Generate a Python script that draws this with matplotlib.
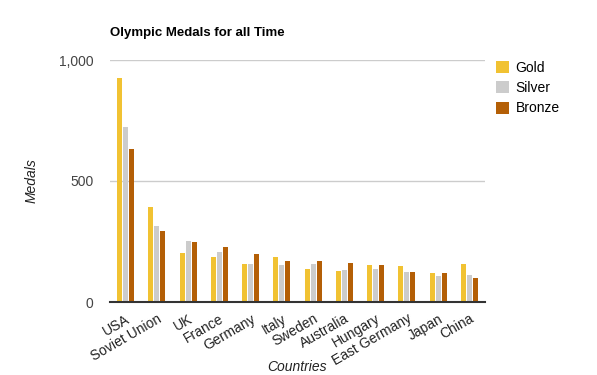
import matplotlib.pyplot as plt
import numpy as np

plt.rcParams['font.family'] = ['Liberation Sans', 'DejaVu Sans']

countries = ["USA", "Soviet Union", "UK", "France", "Germany", "Italy",
             "Sweden", "Australia", "Hungary", "East Germany", "Japan", "China"]
gold = [927, 394, 204, 187, 158, 187, 137, 129, 154, 150, 121, 158]
silver = [724, 315, 253, 208, 158, 154, 158, 133, 137, 125, 108, 112]
bronze = [634, 294, 249, 228, 199, 171, 171, 162, 154, 125, 121, 100]

series = [("Gold", gold, "#f1c232"),
          ("Silver", silver, "#cccccc"),
          ("Bronze", bronze, "#b45f06")]

fig = plt.figure(figsize=(5.97, 3.75), dpi=100)
ax = fig.add_axes([110 / 597, 1 - 302 / 375, 375 / 597, 242 / 375])

x = np.arange(len(countries))
w = 0.16
step = 0.192
for i, (name, vals, col) in enumerate(series):
    ax.bar(x + (i - 1) * step, vals, width=w, color=col, label=name, zorder=3)

ax.set_xlim(-0.5, len(countries) - 0.5)
ax.set_ylim(0, 1000)
ax.set_yticks([0, 500, 1000])
ax.set_yticklabels(["0", "500", "1,000"])
ax.yaxis.grid(True, color="#cccccc", linewidth=1, zorder=0)
for s in ["top", "right", "left"]:
    ax.spines[s].set_visible(False)
ax.spines["bottom"].set_color("#333333")
ax.spines["bottom"].set_linewidth(1.5)
ax.spines["bottom"].set_zorder(4)
ax.tick_params(axis="both", length=0, labelsize=10, colors="#222222")
ax.tick_params(axis="y", pad=12, labelcolor="#444444")
ax.set_xticks(x)
ax.set_xticklabels(countries, rotation=30, ha="right", rotation_mode="anchor")
ax.tick_params(axis="x", pad=7)

# axis titles placed in figure pixels
fig.text(32 / 597, 1 - 181 / 375, "Medals", fontstyle="italic", fontsize=10,
         rotation=90, ha="center", va="center", color="#222222")
fig.text(297 / 597, 1 - 367 / 375, "Countries", fontstyle="italic", fontsize=10,
         ha="center", va="center", color="#222222")
fig.text(110 / 597, 1 - 33 / 375, "Olympic Medals for all Time",
         fontsize=9.5, fontweight="bold", va="center")

ax.legend(loc="upper left", bbox_to_anchor=(496 / 597, 1 - 61 / 375),
          bbox_transform=fig.transFigure, frameon=False, fontsize=10,
          borderpad=0, borderaxespad=0,
          handlelength=0.95, handleheight=0.95, handletextpad=0.45,
          labelspacing=0.45)

fig.savefig("out.png", dpi=100)
